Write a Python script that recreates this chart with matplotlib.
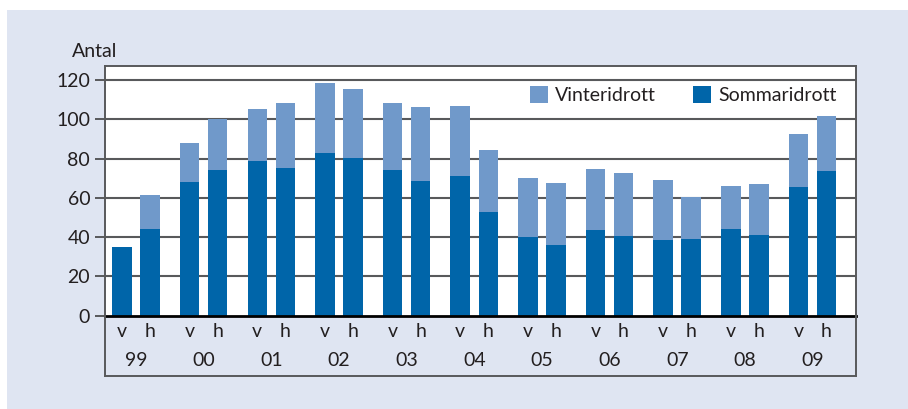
import matplotlib
matplotlib.use("Agg")
import matplotlib.pyplot as plt
from matplotlib.patches import Rectangle, Patch
import numpy as np

plt.rcParams['font.family'] = ['Lato', 'DejaVu Sans']

years = ["99", "00", "01", "02", "03", "04", "05", "06", "07", "08", "09"]
halves = ["v", "h"]
# totals and summer values per half-year (v / h)
sommar_v = [35, 68, 79, 83, 74, 71, 40, 43.5, 38.5, 44, 65.5]
total_v = [35, 88, 105, 118.5, 108.5, 107, 70, 74.5, 69, 66, 92.5]
sommar_h = [44, 74, 75, 80.5, 68.5, 53, 36, 40.5, 39, 41, 73.5]
total_h = [61.5, 100, 108.5, 115.5, 106.5, 84.5, 67.5, 72.5, 60.5, 67, 101.5]
yticks = [0, 20, 40, 60, 80, 100, 120]

vinter_v = [t - s for t, s in zip(total_v, sommar_v)]
vinter_h = [t - s for t, s in zip(total_h, sommar_h)]

c_sommar = "#0065a9"
c_vinter = "#7099ca"
c_grid = "#58595b"
c_text = "#231f20"
c_bg = "#dfe5f2"
fs = 14

W, H = 908, 409
fig = plt.figure(figsize=(W / 100, H / 100), dpi=100, facecolor="white")
fig.patches.append(Rectangle((7 / W, 0), 1 - 7 / W, (H - 10) / H,
                             transform=fig.transFigure, facecolor=c_bg,
                             edgecolor="none", zorder=-10))

x0, x1 = 105, 856
ytop, yzero, ybot = 66, 315.7, 376
ax = fig.add_axes([x0 / W, (H - yzero) / H, (x1 - x0) / W, (yzero - ytop) / H])
ax.set_facecolor("white")

g = np.arange(len(years))
off = 0.207
bw = 0.288
ax.bar(g - off, sommar_v, bw, color=c_sommar, zorder=3)
ax.bar(g - off, vinter_v, bw, bottom=sommar_v, color=c_vinter, zorder=3)
ax.bar(g + off, sommar_h, bw, color=c_sommar, zorder=3)
ax.bar(g + off, vinter_h, bw, bottom=sommar_h, color=c_vinter, zorder=3)

ax.set_xlim(-0.458, len(years) - 1 + 0.643)
ax.set_ylim(0, (yzero - ytop) / 1.964)
ax.set_xticks([])
ax.set_yticks(yticks)
ax.set_yticklabels([str(v) for v in yticks], fontsize=fs, color=c_text)
ax.tick_params(axis="y", direction="out", length=7.2, width=1.4,
               color=c_grid, pad=3.5)
for v in yticks[1:]:
    ax.axhline(v, color=c_grid, lw=1.5, zorder=1)
for side in ["left", "right", "top"]:
    ax.spines[side].set_color(c_grid)
    ax.spines[side].set_linewidth(1.4)
ax.spines["bottom"].set_color("black")
ax.spines["bottom"].set_linewidth(2.0)
ax.spines["bottom"].set_zorder(5)
ax.get_yticklines()[0].set_color("black")

fig.text(72 / W, (H - 57) / H, "Antal", ha="left", va="baseline",
         fontsize=fs, color=c_text)

handles = [Patch(facecolor=c_vinter, label="Vinteridrott"),
           Patch(facecolor=c_sommar, label="Sommaridrott")]
ax.legend(handles=handles, ncol=2, frameon=False, fontsize=fs,
          loc="upper right", bbox_to_anchor=(0.99, 0.965),
          handlelength=0.9, handleheight=0.9, handletextpad=0.4,
          columnspacing=1.9, labelcolor=c_text, borderaxespad=0.2)

# label box below
ax2 = fig.add_axes([x0 / W, (H - ybot) / H, (x1 - x0) / W, (ybot - yzero) / H])
ax2.set_facecolor("none")
ax2.set_xlim(ax.get_xlim())
ax2.set_ylim(0, 1)
ax2.set_xticks([])
ax2.set_yticks([])
for side in ["left", "right", "bottom"]:
    ax2.spines[side].set_color(c_grid)
    ax2.spines[side].set_linewidth(1.4)
ax2.spines["top"].set_visible(False)
for i, yr in enumerate(years):
    ax2.text(i - off, 0.73, halves[0], ha="center", va="center",
             fontsize=fs, color=c_text)
    ax2.text(i + off, 0.73, halves[1], ha="center", va="center",
             fontsize=fs, color=c_text)
    ax2.text(i, 0.25, yr, ha="center", va="center", fontsize=fs, color=c_text)

fig.savefig("out.png", dpi=100, facecolor="white")
